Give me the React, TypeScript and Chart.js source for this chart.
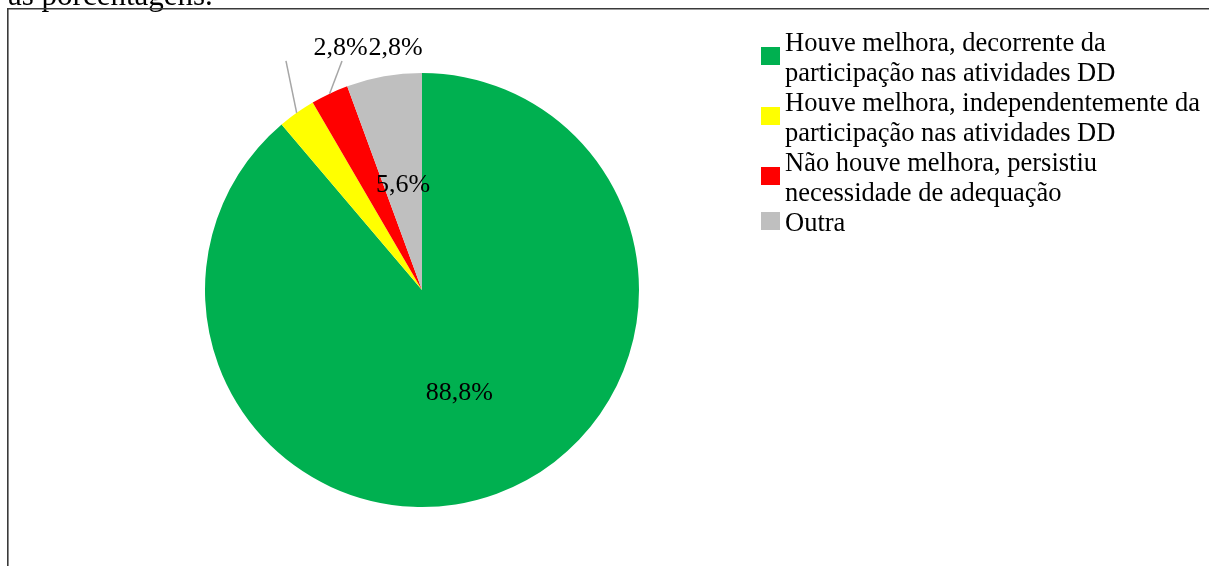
import React, { useEffect, useRef } from "react";
import { Chart, registerables } from "chart.js";

Chart.register(...registerables);

const categories = [
  "Houve melhora, decorrente da\nparticipação nas atividades DD",
  "Houve melhora, independentemente da\nparticipação nas atividades DD",
  "Não houve melhora, persistiu\nnecessidade de adequação",
  "Outra",
];
const values = [88.8, 2.8, 2.8, 5.6];
const valueLabels = ["88,8%", "2,8%", "2,8%", "5,6%"];
const colors = ["#00B050", "#FFFF00", "#FF0000", "#BFBFBF"];
const headerText = "as porcentagens.";

const FONT = '"Liberation Serif", "Times New Roman", serif';

// layout/style for labels placed outside their slice (offsets from arc edge midpoint)
const outsideLabelStyle: Record<number, { text: [number, number]; line: [number, number] }> = {
  1: { text: [43.8, -58], line: [-10.7, -52] },
  2: { text: [65.9, -38.7], line: [12.4, -32.7] },
};

const overlayPlugin = {
  id: "overlay",
  afterDraw(chart: any) {
    const ctx = chart.ctx as CanvasRenderingContext2D;
    ctx.save();

    // header text (cut off at top)
    ctx.fillStyle = "#000";
    ctx.font = `31px ${FONT}`;
    ctx.textAlign = "left";
    ctx.textBaseline = "alphabetic";
    ctx.fillText(headerText, 8, 5);

    // frame
    ctx.strokeStyle = "#3a3a3a";
    ctx.lineWidth = 1.6;
    ctx.beginPath();
    ctx.moveTo(7.8, 700);
    ctx.lineTo(7.8, 8.8);
    ctx.lineTo(1400, 8.8);
    ctx.stroke();

    // data labels
    const meta = chart.getDatasetMeta(0);
    ctx.font = `26px ${FONT}`;
    ctx.fillStyle = "#000";
    meta.data.forEach((arc: any, i: number) => {
      const p = arc.getProps(["x", "y", "startAngle", "endAngle", "outerRadius"], true);
      const mid = (p.startAngle + p.endAngle) / 2;
      const ex = p.x + Math.cos(mid) * p.outerRadius;
      const ey = p.y + Math.sin(mid) * p.outerRadius;
      const o = outsideLabelStyle[i];
      if (o) {
        ctx.strokeStyle = "#A6A6A6";
        ctx.lineWidth = 1.5;
        ctx.beginPath();
        ctx.moveTo(ex, ey);
        ctx.lineTo(ex + o.line[0], ey + o.line[1]);
        ctx.stroke();
        ctx.textAlign = "center";
        ctx.textBaseline = "alphabetic";
        ctx.fillText(valueLabels[i], ex + o.text[0], ey + o.text[1]);
      } else {
        const c = arc.tooltipPosition(true);
        ctx.textAlign = "center";
        ctx.textBaseline = "alphabetic";
        ctx.fillText(valueLabels[i], c.x, c.y + 8.5);
      }
    });

    // legend
    ctx.font = `26.5px ${FONT}`;
    ctx.textAlign = "left";
    ctx.textBaseline = "alphabetic";
    const lineH = 30;
    let baseline = 51;
    categories.forEach((label, i) => {
      const lines = label.split("\n");
      const middle = baseline - 9 + ((lines.length - 1) * lineH) / 2;
      ctx.fillStyle = colors[i];
      ctx.fillRect(761, middle - 1 - 9, 19, 18);
      ctx.fillStyle = "#000";
      lines.forEach((ln, j) => {
        ctx.fillText(ln, 785, baseline + j * lineH);
      });
      baseline += lines.length * lineH;
    });

    ctx.restore();
  },
};

export default function App() {
  const ref = useRef<HTMLCanvasElement>(null);
  useEffect(() => {
    if (!ref.current) return;
    const chart = new Chart(ref.current, {
      type: "pie",
      data: {
        labels: categories,
        datasets: [
          {
            data: values,
            backgroundColor: colors,
            borderWidth: 0,
          },
        ],
      },
      options: {
        responsive: false,
        maintainAspectRatio: false,
        animation: false,
        layout: { padding: { left: 205, right: 570, top: 73, bottom: 59 } },
        plugins: {
          legend: { display: false },
          tooltip: { enabled: false },
        },
      },
      plugins: [overlayPlugin],
    });
    return () => chart.destroy();
  }, []);
  return (
    <div style={{ position: "fixed", left: 0, top: 0, width: 1209, height: 566, overflow: "hidden", background: "#fff" }}>
      <canvas ref={ref} width={1209} height={566} style={{ display: "block" }} />
    </div>
  );
}
